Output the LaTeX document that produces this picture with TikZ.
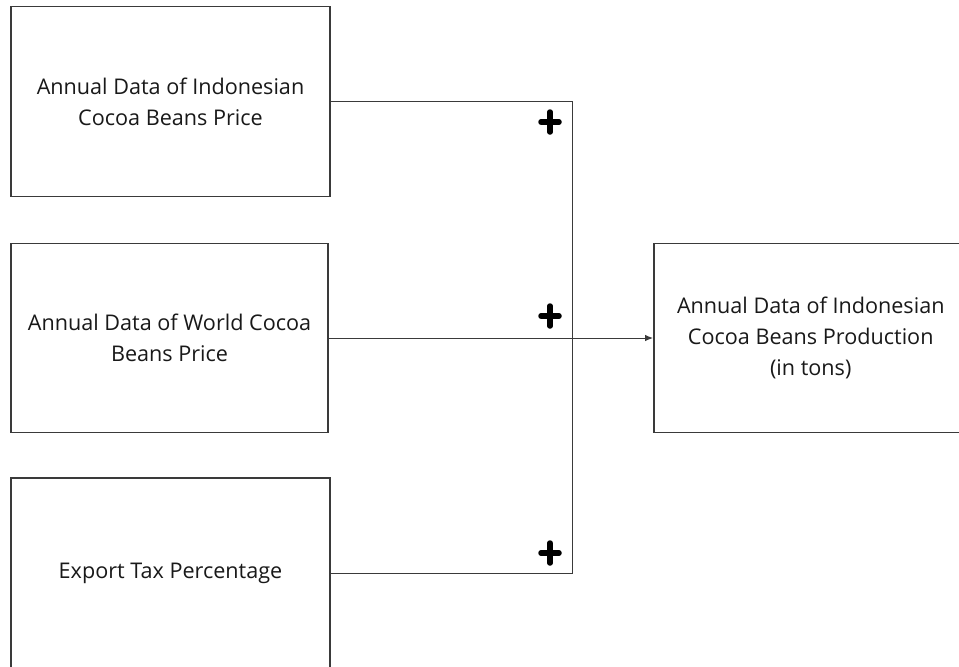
\documentclass[tikz,border=0pt]{standalone}
\usepackage{fontspec}
\setmainfont{Open Sans}
\usetikzlibrary{arrows.meta}
\definecolor{edge}{HTML}{3A3A3A}
\begin{document}
\begin{tikzpicture}[x=1pt,y=1pt,
  box/.style={draw=edge,line width=1.5pt,fill=white,align=center,inner sep=0pt,
    font=\fontsize{21.6}{31}\selectfont,text=black!90},
  conn/.style={draw=edge,line width=0.9pt},
  plus/.style={line width=5.5pt,line cap=round,black}]
\useasboundingbox (0,0) rectangle (959,-667);
\begin{scope}
\clip (0,0) rectangle (959,-667);
\node[box,minimum width=319pt,minimum height=190pt] (b1) at (170.5,-101.5)
  {Annual Data of Indonesian\\Cocoa Beans Price};
\node[box,minimum width=317pt,minimum height=189pt] (b2) at (169.5,-338)
  {Annual Data of World Cocoa\\Beans Price};
\node[box,minimum width=319pt,minimum height=190pt] (b3) at (170.5,-573)
  {Export Tax Percentage};
\node[box,minimum width=314pt,minimum height=189pt,anchor=west] (b4) at (653,-338)
  {Annual Data of Indonesian\\Cocoa Beans Production\\(in tons)};
\end{scope}
\coordinate (jx) at (572,0);
\draw[conn] (b1.east) -| (b3.east -| jx) -- (b3.east);
\draw[conn,-{Latex[length=8pt,width=6.5pt]}] (b2.east) -- (b4.west);
\foreach \n/\y in {p1/122,p2/316,p3/553}{
  \coordinate (\n) at (550,-\y);
  \draw[plus] ([xshift=-9pt]\n) -- ([xshift=9pt]\n);
  \draw[plus] ([yshift=-10pt]\n) -- ([yshift=10pt]\n);
}
\end{tikzpicture}
\end{document}
